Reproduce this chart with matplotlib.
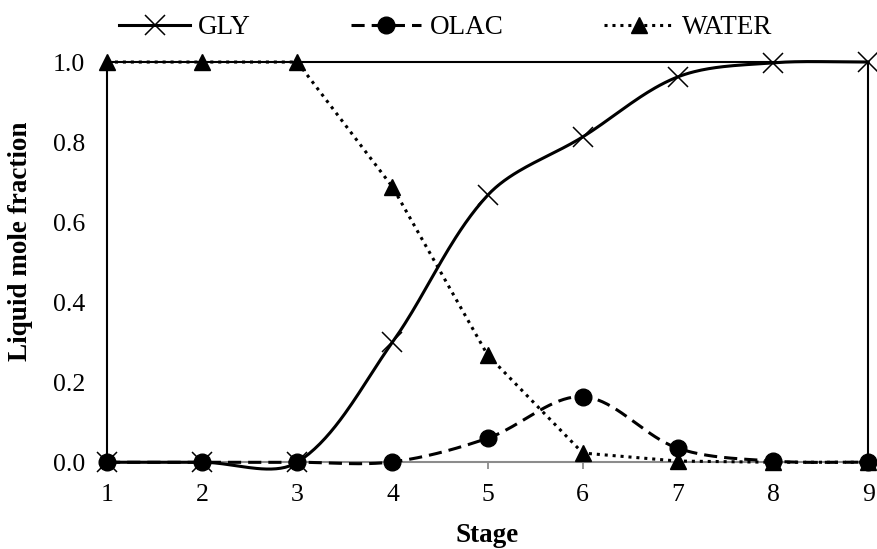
import numpy as np
import matplotlib.pyplot as plt
from matplotlib.lines import Line2D

stages = [1, 2, 3, 4, 5, 6, 7, 8, 9]
gly = [0.0, 0.0, 0.0, 0.300, 0.667, 0.813, 0.963, 0.998, 1.0]
olac = [0.0, 0.0, 0.0, 0.001, 0.060, 0.164, 0.035, 0.003, 0.0]
water = [1.0, 1.0, 1.0, 0.688, 0.268, 0.023, 0.003, 0.0, 0.0]

plt.rcParams["font.family"] = ["Liberation Serif", "DejaVu Serif"]
plt.rcParams["font.size"] = 19.5


def smooth(ax, x, y, n=40):
    # Bezier smoothing done in pixel space, tangents weighted by segment lengths
    pts = ax.transData.transform(np.column_stack([x, y]))
    p = np.vstack([pts[0], pts, pts[-1]])
    t = np.linspace(0, 1, n)[:, None]
    out = []
    for i in range(1, len(p) - 2):
        p0, p1, p2, p3 = p[i - 1], p[i], p[i + 1], p[i + 2]
        d01 = np.hypot(*(p1 - p0))
        d12 = np.hypot(*(p2 - p1))
        d23 = np.hypot(*(p3 - p2))
        c1 = p1 + (p2 - p0) / 3 * d12 / (d01 + d12)
        c2 = p2 - (p3 - p1) / 3 * d12 / (d12 + d23)
        seg = (1 - t) ** 3 * p1 + 3 * (1 - t) ** 2 * t * c1 \
            + 3 * (1 - t) * t ** 2 * c2 + t ** 3 * p2
        out.append(seg)
    out = ax.transData.inverted().transform(np.vstack(out))
    return out[:, 0], out[:, 1]


fig = plt.figure(figsize=(8.77, 5.49), dpi=100)
ax = fig.add_axes([0.122, 0.158, 0.868, 0.729])
ax.set_xlim(1, 9)
ax.set_ylim(0, 1)

lw = 2.2
series = [
    (gly, "-", "x", "GLY", True,
     dict(markersize=14, markeredgewidth=1.1, markerfacecolor="none")),
    (olac, (0, (4.3, 2.3)), "o", "OLAC", True, dict(markersize=12)),
    (water, (0, (1, 1.6)), "^", "WATER", False, dict(markersize=11.5)),
]

handles = []
for data, ls, mk, name, curved, mkw in series:
    if curved:
        sx, sy = smooth(ax, stages, data)
    else:
        sx, sy = stages, data
    ax.plot(sx, sy, color="black", linestyle=ls, linewidth=lw, clip_on=False, zorder=3)
    ax.plot(stages, data, linestyle="none", marker=mk, color="black", clip_on=False,
            zorder=4, **mkw)
    handles.append(Line2D([], [], color="black", linestyle=ls, linewidth=lw,
                          marker=mk, label=name, **mkw))

ax.set_xticks(stages)
yt = np.arange(0, 1.01, 0.2)
ax.set_yticks(yt)
ax.set_yticklabels([f"{v:.1f}" for v in yt])

for side in ["left", "top", "right"]:
    ax.spines[side].set_color("black")
    ax.spines[side].set_linewidth(1.5)
ax.spines["bottom"].set_color("#8c8c8c")
ax.spines["bottom"].set_linewidth(1.5)
ax.tick_params(axis="y", length=0, pad=16, labelsize=18.5)
ax.tick_params(axis="x", length=5, width=1.3, color="#8c8c8c", pad=11,
               direction="out", labelsize=18.5)

ax.set_xlabel("Stage", fontweight="bold", labelpad=12)
ax.set_ylabel("Liquid mole fraction", fontweight="bold")
ax.yaxis.set_label_coords(-0.097, 0.553)

fig.legend(handles=handles, loc="center", ncol=3, frameon=False,
           bbox_to_anchor=(446 / 877, 1 - 28 / 549), handlelength=2.6,
           columnspacing=3.7, handletextpad=0.3, borderpad=0.2)

fig.savefig("out.png", dpi=100)
